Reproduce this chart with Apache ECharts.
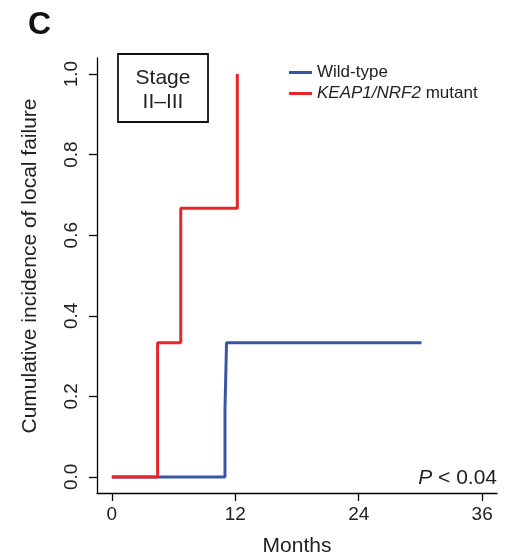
<!DOCTYPE html>
<html><head><meta charset="utf-8">
<script src="https://cdn.jsdelivr.net/npm/echarts@6/dist/echarts.min.js"></script>
<style>html,body{margin:0;padding:0;background:#fff}#c{width:520px;height:556px}</style>
</head><body><div id="c"></div>
<script>
var xTicks = [0, 12, 24, 36];
var yTicks = [0, 0.2, 0.4, 0.6, 0.8, 1.0];
var wildTimes = [0, 11.0, 11.15, 30.1];
var wildCum = [0, 0.167, 0.333, 0.333];
var mutTimes = [0, 4.45, 6.7, 12.2];
var mutCum = [0, 0.333, 0.667, 1.0];
var seriesNames = ['Wild-type', 'KEAP1/NRF2 mutant'];

function pairs(t, v) { return t.map(function (x, i) { return [x, v[i]]; }); }
var FONT = 'Liberation Sans';
var chart = echarts.init(document.getElementById('c'), null, {renderer: 'canvas'});
chart.setOption({
  backgroundColor: '#fff',
  animation: false,
  textStyle: {fontFamily: FONT},
  grid: {left: 97, right: 23, top: 58, bottom: 63, containLabel: false},
  xAxis: {
    type: 'value', min: -1.44, max: 37.44,
    splitLine: {show: false},
    axisLine: {onZero: false, lineStyle: {color: '#000', width: 1.3}},
    axisTick: {show: true, length: 8, customValues: xTicks, lineStyle: {color: '#000', width: 1.3}},
    axisLabel: {customValues: xTicks, margin: 12, color: '#222', fontSize: 19, fontFamily: FONT}
  },
  yAxis: {
    type: 'value', min: -0.04, max: 1.04,
    splitLine: {show: false},
    axisLine: {show: true, onZero: false, lineStyle: {color: '#000', width: 1.3}},
    axisTick: {show: true, length: 8, customValues: yTicks, lineStyle: {color: '#000', width: 1.3}},
    axisLabel: {customValues: yTicks, rotate: 90, margin: 16, color: '#222', fontSize: 19, fontFamily: FONT,
      formatter: function (v) { return v.toFixed(1); }}
  },
  legend: {
    left: 284, top: 59, orient: 'vertical', itemGap: 4,
    itemWidth: 23, itemHeight: 3, icon: 'rect',
    data: seriesNames,
    textStyle: {fontSize: 17, color: '#222', fontFamily: FONT,
      rich: {i: {fontStyle: 'italic', fontSize: 17, fontFamily: FONT, color: '#222'}, n: {fontSize: 17, fontFamily: FONT, color: '#222'}}},
    formatter: function (n) {
      if (n.indexOf('KEAP1') === 0) return '{i|KEAP1/NRF2}{n| mutant}';
      return n;
    }
  },
  series: [
    {name: seriesNames[0], type: 'line', step: 'end', data: pairs(wildTimes, wildCum),
      showSymbol: false, symbol: 'none', color: '#3b55a3', lineStyle: {width: 3, color: '#3b55a3'}},
    {name: seriesNames[1], type: 'line', step: 'end', data: pairs(mutTimes, mutCum),
      showSymbol: false, symbol: 'none', color: '#e5262d', lineStyle: {width: 3, color: '#e5262d'}}
  ],
  graphic: [
    {type: 'text', left: 28, top: 9, style: {text: 'C', font: 'bold 32px ' + FONT, fill: '#111'}},
    {type: 'rect', shape: {x: 118, y: 54, width: 90, height: 68}, style: {fill: 'none', stroke: '#111', lineWidth: 1.8}},
    {type: 'text', x: 163, y: 78, style: {text: 'Stage', font: '21px ' + FONT, fill: '#222', align: 'center', verticalAlign: 'middle'}},
    {type: 'text', x: 163, y: 102, style: {text: 'II\u2013III', font: '21px ' + FONT, fill: '#222', align: 'center', verticalAlign: 'middle'}},
    {type: 'text', x: 297, y: 546, style: {text: 'Months', font: '21px ' + FONT, fill: '#222', align: 'center', verticalAlign: 'middle'}},
    {type: 'text', x: 30, y: 266, rotation: Math.PI / 2, style: {text: 'Cumulative incidence of local failure', font: '21px ' + FONT, fill: '#222', align: 'center', verticalAlign: 'middle'}},
    {type: 'text', x: 497, y: 478, style: {
      text: '{i|P}{n| < 0.04}', align: 'right', verticalAlign: 'middle',
      rich: {i: {font: 'italic 21px ' + FONT, fill: '#222'}, n: {font: '21px ' + FONT, fill: '#222'}}}}
  ]
});
</script></body></html>
